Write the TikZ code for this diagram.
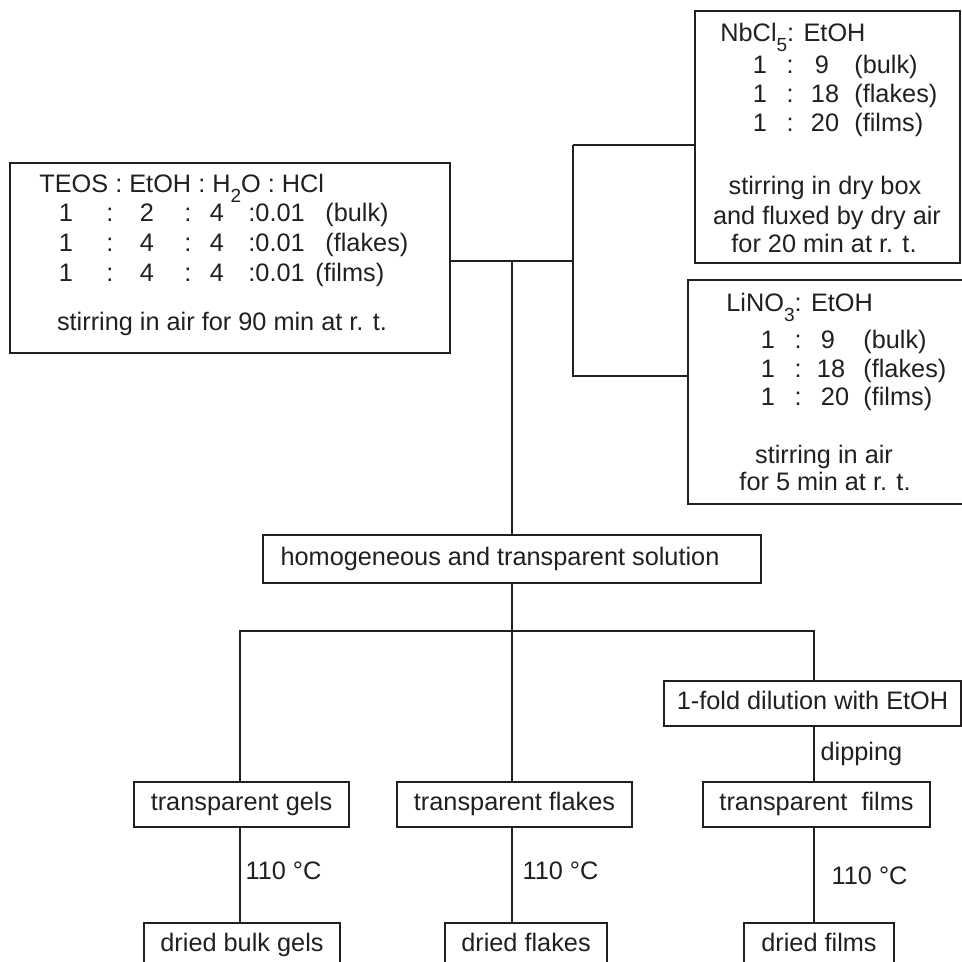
\documentclass[tikz,border=0pt]{standalone}
\usepackage{fontspec}
\setmainfont{Liberation Sans}
\definecolor{ink}{HTML}{231F20}
\newcommand{\chemsub}[1]{\raisebox{-5pt}{\fontsize{9.5}{9.5}\selectfont #1}}
\tikzset{
  box/.style={draw=ink, line width=0.65pt, inner sep=0pt, text height=9pt, text depth=2.7pt},
  sz/.style 2 args={minimum width=#1*0.5pt, minimum height=#2*0.5pt},
  link/.style={draw=ink, line width=0.65pt},
  txt/.style={inner sep=0pt, anchor=base west},
  txtc/.style={inner sep=0pt, anchor=base},
  lbl/.style={inner sep=0pt, text height=9pt, text depth=0pt}
}
\begin{document}
\begin{tikzpicture}[x=0.5pt, y=-0.5pt, font=\fontsize{12.65}{15}\selectfont, text=ink]
\useasboundingbox[fill=white] (0,0) rectangle (962,962);
\clip (0,0) rectangle (962,962);

% starting solutions
\node[box, sz={440}{190}] (teos) at (230,258) {};
\node[txt] (teos-h) at (39,193) {TEOS : EtOH : H\chemsub{2}O : HCl};
\foreach \yb/\m/\tag/\tx [count=\i] in {222/2/{(bulk)}/325, 252/4/{(flakes)}/325, 282/4/{(films)}/315}{
  \node[txtc] (teos-\i-a) at (66,\yb) {1};
  \node[txtc] (teos-\i-b) at (110,\yb) {:};
  \node[txtc] (teos-\i-c) at (147,\yb) {\m};
  \node[txtc] (teos-\i-d) at (188,\yb) {:};
  \node[txtc] (teos-\i-e) at (217,\yb) {4};
  \node[txt] (teos-\i-f) at (248,\yb) {:0.01};
  \node[txt] (teos-\i-g) at (\tx,\yb) {\tag};
}
\node[txtc] (teos-s) at (222,330) {stirring in air for 90 min at r. t.};

\node[box, sz={265}{252}] (nb) at (827.5,137) {};
\node[txt] (nb-h) at (720,42) {NbCl\chemsub{5}: EtOH};
\foreach \yb/\v/\vx/\tag [count=\i] in {74/9/822/{(bulk)}, 103/18/825/{(flakes)}, 132/20/825/{(films)}}{
  \node[txtc] (nb-\i-a) at (760,\yb) {1};
  \node[txtc] (nb-\i-b) at (790,\yb) {:};
  \node[txtc] (nb-\i-c) at (\vx,\yb) {\v};
  \node[txt] (nb-\i-d) at (854,\yb) {\tag};
}
\node[txtc] (nb-s1) at (825,195) {stirring in dry box};
\node[txtc] (nb-s2) at (827,225) {and fluxed by dry air};
\node[txtc] (nb-s3) at (824,253) {for 20 min at r. t.};

\node[box, sz={276}{224}] (li) at (826,392) {};
\node[txt] (li-h) at (726,312) {LiNO\chemsub{3}: EtOH};
\foreach \yb/\v/\vx/\tag [count=\i] in {348/9/828/{(bulk)}, 377/18/831/{(flakes)}, 405/20/835/{(films)}}{
  \node[txtc] (li-\i-a) at (768,\yb) {1};
  \node[txtc] (li-\i-b) at (798,\yb) {:};
  \node[txtc] (li-\i-c) at (\vx,\yb) {\v};
  \node[txt] (li-\i-d) at (863,\yb) {\tag};
}
\node[txtc] (li-s1) at (824,463) {stirring in air};
\node[txtc] (li-s2) at (825,490) {for 5 min at r. t.};

% mixing
\node[box, sz={498}{48}] (homog) at (512,559) {homogeneous and transparent solution\hspace*{12pt}};

% three routes
\node[box, sz={297}{45}] (dilut) at (812.5,703.5) {1-fold dilution with EtOH};
\node[box, sz={215}{45}] (tgels) at (241.5,804.5) {transparent gels};
\node[box, sz={235}{45}] (tflakes) at (514.5,804.5) {transparent flakes};
\node[box, sz={227}{45}] (tfilms) at (816.5,804.5) {transparent~ films};
\node[box, sz={196}{45}] (dgels) at (242,945.5) {dried bulk gels};
\node[box, sz={162}{45}] (dflakes) at (526,945.5) {dried flakes};
\node[box, sz={150}{45}] (dfilms) at (819,945.5) {dried films};

\coordinate (j1) at (512,261);
\coordinate (j2) at (573,261);
\coordinate (j3) at (573,145);
\coordinate (j4) at (573,376);
\coordinate (cL) at (240,631);
\coordinate (cM) at (512,631);
\coordinate (cR) at (814,631);

\draw[link] (teos.east |- j1) -- (j2);
\draw[link] (j3) -- (nb.west |- j3);
\draw[link] (j3) -- (j4) -- (li.west |- j4);
\draw[link] (j1) -- (homog.north -| j1);
\draw[link] (homog.south -| cM) -- (cM);
\draw[link] (tgels.north -| cL) -- (cL) -- (cR) -- (dilut.north -| cR);
\draw[link] (cM) -- (tflakes.north -| cM);
\draw[link] (dilut.south -| cR) -- node[inner sep=0pt, right=3pt] (dip) {dipping} (tfilms.north -| cR);
\draw[link] (tgels.south -| cL) -- node[lbl, pos=.45, right=2.5pt] (t1) {110 °C} (dgels.north -| cL);
\draw[link] (tflakes.south -| cM) -- node[lbl, pos=.45, right=5pt] (t2) {110 °C} (dflakes.north -| cM);
\draw[link] (tfilms.south -| cR) -- node[lbl, pos=.51, right=8.5pt] (t3) {110 °C} (dfilms.north -| cR);
\end{tikzpicture}
\end{document}
